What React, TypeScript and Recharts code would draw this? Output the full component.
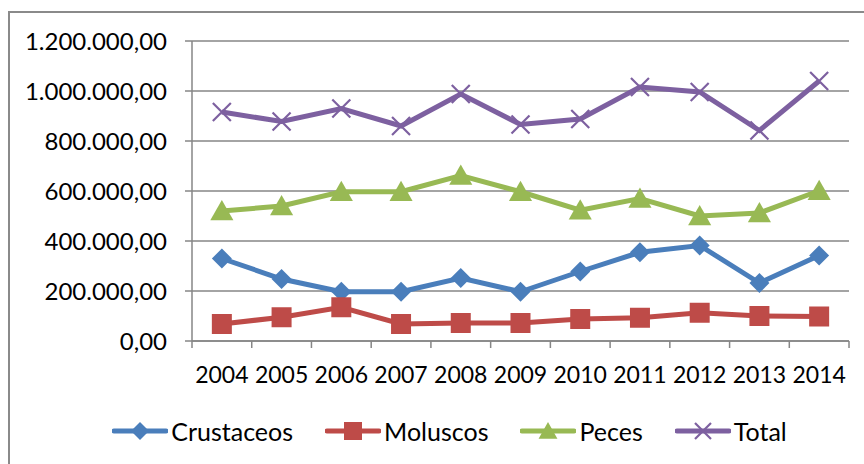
import React from 'react';
import { LineChart, Line, XAxis, YAxis, CartesianGrid, Legend } from 'recharts';

const years = ['2004', '2005', '2006', '2007', '2008', '2009', '2010', '2011', '2012', '2013', '2014'];
const crustaceos = [330000, 248000, 197000, 197000, 252000, 197000, 278000, 355000, 382000, 232000, 342000];
const moluscos = [68000, 95000, 135000, 68000, 72000, 72000, 88000, 93000, 113000, 100000, 98000];
const peces = [520000, 540000, 597000, 597000, 662000, 597000, 523000, 570000, 500000, 512000, 601000];
const total = [916000, 878000, 930000, 860000, 988000, 866000, 888000, 1016000, 996000, 842000, 1040000];
const yTicks = [0, 200000, 400000, 600000, 800000, 1000000, 1200000];

const data = years.map((year, i) => ({
  year,
  Crustaceos: crustaceos[i],
  Moluscos: moluscos[i],
  Peces: peces[i],
  Total: total[i],
}));

const FONT = 'Lato, "Open Sans", sans-serif';
const BLUE = '#4A7EBB';
const RED = '#BE4B48';
const GREEN = '#98B954';
const PURPLE = '#7D60A0';
const HALF_BAND = 29.85;

const fmt = (v: number) => {
  const s = Math.round(v).toString().replace(/\B(?=(\d{3})+(?!\d))/g, '.');
  return s + ',00';
};

const Diamond = (p: any) => {
  const { cx, cy, fill, size = 10 } = p;
  if (cx == null || cy == null) return null;
  const r = size;
  return <path d={`M${cx},${cy - r} L${cx + r},${cy} L${cx},${cy + r} L${cx - r},${cy} Z`} fill={fill} />;
};

const Square = (p: any) => {
  const { cx, cy, fill, size = 10 } = p;
  if (cx == null || cy == null) return null;
  return <rect x={cx - size} y={cy - size} width={size * 2} height={size * 2} fill={fill} />;
};

const Triangle = (p: any) => {
  const { cx, cy, fill, size = 11 } = p;
  if (cx == null || cy == null) return null;
  const r = size;
  return <path d={`M${cx},${cy - r} L${cx + r * 1.05},${cy + r * 0.85} L${cx - r * 1.05},${cy + r * 0.85} Z`} fill={fill} />;
};

const Cross = (p: any) => {
  const { cx, cy, fill, size = 9 } = p;
  if (cx == null || cy == null) return null;
  const r = size;
  return (
    <path
      d={`M${cx - r},${cy - r} L${cx + r},${cy + r} M${cx + r},${cy - r} L${cx - r},${cy + r}`}
      stroke={fill}
      strokeWidth={2.2}
      fill="none"
    />
  );
};

const series = [
  { key: 'Crustaceos', color: BLUE, Shape: Diamond },
  { key: 'Moluscos', color: RED, Shape: Square },
  { key: 'Peces', color: GREEN, Shape: Triangle },
  { key: 'Total', color: PURPLE, Shape: Cross },
];

const YearTick = (props: any) => {
  const { x, y, payload, index } = props;
  const half = HALF_BAND;
  return (
    <g>
      <line x1={x - half} y1={y} x2={x - half} y2={y + 7} stroke="#868686" strokeWidth={1.5} />
      {index === years.length - 1 && (
        <line x1={x + half} y1={y} x2={x + half} y2={y + 7} stroke="#868686" strokeWidth={1.5} />
      )}
      <text x={x} y={y + 42} textAnchor="middle" fill="#000" fontSize={23} fontFamily={FONT}>
        {payload.value}
      </text>
    </g>
  );
};

const LegendContent = () => (
  <div
    style={{
      display: 'flex',
      justifyContent: 'center',
      gap: 32,
      paddingLeft: 50,
      fontFamily: FONT,
      fontSize: 25,
    }}
  >
    {series.map((s) => (
      <div key={s.key} style={{ display: 'flex', alignItems: 'center' }}>
        <svg width={56} height={24}>
          <line x1={2} y1={12} x2={54} y2={12} stroke={s.color} strokeWidth={5} strokeLinecap="round" />
          <s.Shape cx={28} cy={12} fill={s.color} size={s.key === 'Total' ? 8 : 9} />
        </svg>
        <span style={{ marginLeft: 3, color: '#000' }}>{s.key}</span>
      </div>
    ))}
  </div>
);

export default function App() {
  return (
    <div style={{ position: 'fixed', left: 0, top: 0, width: 864, height: 464, overflow: 'hidden', background: '#fff' }}>
      <div
        style={{
          position: 'absolute',
          left: 8,
          top: 11,
          width: 900,
          height: 500,
          border: '2px solid #8a8a8a',
          boxSizing: 'border-box',
        }}
      />
      <div style={{ position: 'absolute', left: 0, top: 0 }}>
        <LineChart width={864} height={464} data={data} margin={{ top: 41, right: 15, left: 0, bottom: 33 }}>
          <CartesianGrid vertical={false} stroke="#868686" strokeWidth={1.5} />
          <XAxis
            dataKey="year"
            stroke="#868686"
            strokeWidth={1.5}
            tickLine={false}
            tickSize={0}
            tickMargin={0}
            height={60}
            interval={0}
            padding={{ left: HALF_BAND, right: HALF_BAND }}
            tick={<YearTick />}
          />
          <YAxis
            domain={[0, 1200000]}
            ticks={yTicks}
            tickFormatter={fmt}
            width={192}
            stroke="#868686"
            strokeWidth={1.5}
            tickSize={7}
            tickMargin={18}
            tick={{ fill: '#000', fontSize: 24, fontFamily: FONT }}
            interval={0}
          />
          <Legend verticalAlign="bottom" content={<LegendContent />} wrapperStyle={{ bottom: 18 }} />
          {series.map((s) => (
            <Line
              key={s.key}
              dataKey={s.key}
              stroke={s.color}
              strokeWidth={5}
              isAnimationActive={false}
              dot={<s.Shape fill={s.color} />}
              activeDot={false}
            />
          ))}
        </LineChart>
      </div>
    </div>
  );
}
